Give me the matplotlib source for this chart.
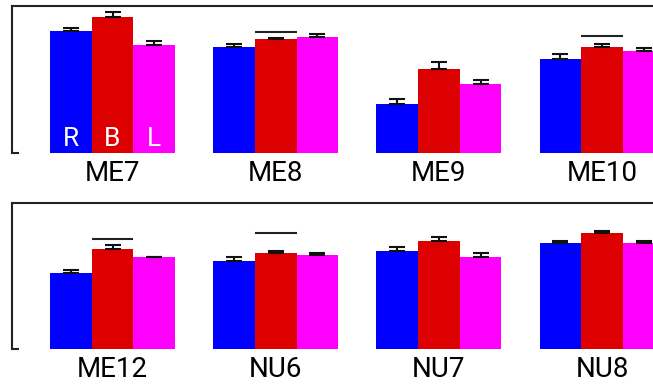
import matplotlib
matplotlib.use("Agg")
import matplotlib.pyplot as plt
import numpy as np

# ── Data ──────────────────────────────────────────────────────────────────────

TOP_GROUPS = ["ME7", "ME8", "ME9", "ME10"]
TOP_R = [0.827, 0.716, 0.332, 0.634]
TOP_B = [0.920, 0.770, 0.566, 0.716]
TOP_L = [0.729, 0.784, 0.468, 0.688]
TOP_R_ERR = [0.020, 0.022, 0.034, 0.036]
TOP_B_ERR = [0.034, 0.009, 0.050, 0.022]
TOP_L_ERR = [0.031, 0.022, 0.023, 0.020]
TOP_SIG = [None, 0.820, None, 0.795]   # bracket over the B bar

BOT_GROUPS = ["ME12", "NU6", "NU7", "NU8"]
BOT_R = [0.524, 0.606, 0.675, 0.730]
BOT_B = [0.686, 0.659, 0.743, 0.798]
BOT_L = [0.631, 0.645, 0.631, 0.730]
BOT_R_ERR = [0.018, 0.023, 0.023, 0.010]
BOT_B_ERR = [0.025, 0.012, 0.023, 0.010]
BOT_L_ERR = [0.003, 0.012, 0.027, 0.010]
BOT_SIG = [0.753, 0.794, None, None]

SERIES = ["R", "B", "L"]
COLORS = ["#0000ff", "#dd0000", "#ff00ff"]

# ── Layout (pixels) ───────────────────────────────────────────────────────────

W, H, DPI = 653, 385, 100
GROUP_PX = 163.2          # distance between group centres
FIRST_PX = 112.5          # centre of first group
LEFT_PX = 12.0
AX_W_PX = 720.0
BAR_W = 41.7 / GROUP_PX
FONT = "Roboto"


def draw_panel(fig, top_px, base_px, groups, vals, errs, sig, inner_labels):
    ax = fig.add_axes([LEFT_PX / W, 1 - base_px / H,
                       AX_W_PX / W, (base_px - top_px) / H])
    x0 = -(FIRST_PX - LEFT_PX) / GROUP_PX
    ax.set_xlim(x0, x0 + AX_W_PX / GROUP_PX)
    ax.set_ylim(0, 1)
    x = np.arange(len(groups))
    for k, (v, e, c) in enumerate(zip(vals, errs, COLORS)):
        xs = x + (k - 1) * BAR_W
        ax.bar(xs, v, width=BAR_W, color=c, edgecolor="none", zorder=2)
        ax.errorbar(xs, v, yerr=[np.zeros(len(e)), e], fmt="none",
                    ecolor="#111111", elinewidth=1.5, capsize=6,
                    capthick=1.5, zorder=3)
        if inner_labels:
            ax.annotate(SERIES[k], (xs[0], 0), xytext=(0, 4.7),
                        textcoords="offset points", ha="center",
                        va="baseline", color="white", fontsize=19,
                        family=FONT, zorder=4)
    for i, s in enumerate(sig):
        if s is not None:
            ax.hlines(s, i - BAR_W / 2, i + BAR_W / 2, color="#222222",
                      linewidth=1.5, zorder=3)
    for i, g in enumerate(groups):
        ax.annotate(g, (i, 0), xytext=(0, -20.5), textcoords="offset points",
                    ha="center", va="baseline", fontsize=20, family=FONT,
                    color="black", annotation_clip=False)

    for side in ("right", "bottom"):
        ax.spines[side].set_visible(False)
    for side in ("top", "left"):
        ax.spines[side].set_linewidth(1.5)
        ax.spines[side].set_color("#222222")
    ax.set_xticks([])
    ax.set_yticks([0])
    ax.set_yticklabels([])
    ax.tick_params(axis="y", direction="in", length=5, width=1.5,
                   color="#222222")
    return ax


fig = plt.figure(figsize=(W / DPI, H / DPI), dpi=DPI)

draw_panel(fig, 5.5, 152.5, TOP_GROUPS,
           [TOP_R, TOP_B, TOP_L], [TOP_R_ERR, TOP_B_ERR, TOP_L_ERR],
           TOP_SIG, inner_labels=True)
draw_panel(fig, 203.3, 349.0, BOT_GROUPS,
           [BOT_R, BOT_B, BOT_L], [BOT_R_ERR, BOT_B_ERR, BOT_L_ERR],
           BOT_SIG, inner_labels=False)

fig.savefig("out.png", dpi=DPI)
